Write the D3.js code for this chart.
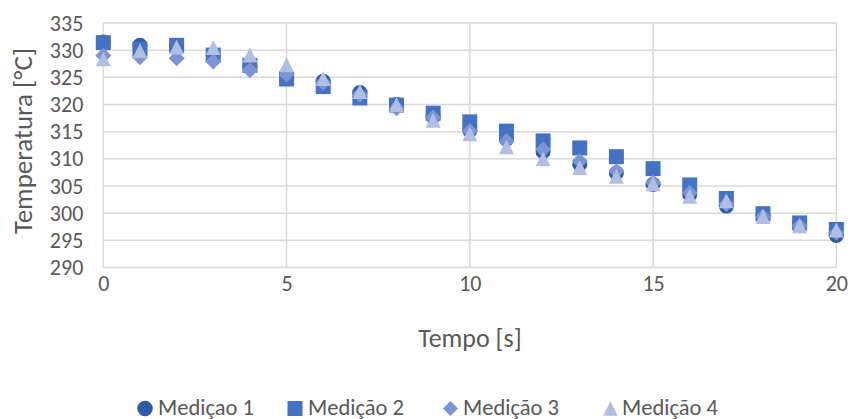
<!DOCTYPE html>
<html><head><meta charset="utf-8">
<script src="https://cdn.jsdelivr.net/npm/d3@7"></script>
<style>body{margin:0;background:#fff}svg{display:block}text{font-family:Carlito,"Liberation Sans",Arial,sans-serif;fill:#595959}</style>
</head><body><svg id="c" width="851" height="419"></svg>
<script>
const tempo = [0,1,2,3,4,5,6,7,8,9,10,11,12,13,14,15,16,17,18,19,20];
const medicao1 = [331.5,330.9,330.5,329,327,325.5,324.3,322.2,320,317.8,315.2,313.6,311.3,309,307.4,305.3,303.4,301.3,299.6,298,295.9];
const medicao2 = [331.4,330.2,330.9,329.1,327.2,324.7,323.3,321.2,319.9,318.4,316.8,315.1,313.3,312,310.4,308.2,305.2,302.7,299.9,298.2,297];
const medicao3 = [329,328.7,328.5,327.9,326.3,325.5,324,321.8,319.3,317.6,315.1,313.3,311.7,309.6,307.7,305.6,303.7,301.7,299.4,297.7,296.4];
const medicao4 = [328.4,329.9,330.6,330.5,329.1,327.3,324.8,322.4,320,317.1,314.6,312.2,310,308.4,306.8,305.4,303.1,302.3,299.4,297.7,296.9];
const seriesNames = ["Mediçao 1","Medição 2","Medição 3","Medição 4"];
const xTicks = [0,5,10,15,20];
const yTicks = [290,295,300,305,310,315,320,325,330,335];

const svg = d3.select("#c");
const x = d3.scaleLinear().domain([0,20]).range([103.3,836.3]);
const y = d3.scaleLinear().domain([290,335]).range([267.5,23]);
const colors = ["#2F5CA8","#4472C4","#7C94D4","#B0BDE4"];

const diamond = {draw(ctx,size){const r=Math.sqrt(size/2);ctx.moveTo(0,-r);ctx.lineTo(r,0);ctx.lineTo(0,r);ctx.lineTo(-r,0);ctx.closePath();}};
const triangle = {draw(ctx,size){const w=Math.sqrt(size*2);ctx.moveTo(0,-w/2);ctx.lineTo(w/2,w/2);ctx.lineTo(-w/2,w/2);ctx.closePath();}};
const symbols = [d3.symbolCircle,d3.symbolSquare,diamond,triangle];
const sizes = [177,225,128,112];
const legSizes = [190,225,112,105];

const grid = svg.append("g");
grid.selectAll("line.h").data(yTicks).join("line")
  .attr("x1",x(0)).attr("x2",x(20)).attr("y1",d=>y(d)).attr("y2",d=>y(d))
  .attr("stroke","#d9d9d9").attr("stroke-width",1.5);
grid.selectAll("line.v").data(xTicks).join("line")
  .attr("y1",y(290)).attr("y2",y(335)).attr("x1",d=>x(d)).attr("x2",d=>x(d))
  .attr("stroke","#d9d9d9").attr("stroke-width",1.5);

const yAxis = svg.append("g").attr("transform",`translate(${x(0)},0)`)
  .call(d3.axisLeft(y).tickValues(yTicks).tickSize(0).tickPadding(20));
yAxis.select(".domain").remove();
yAxis.selectAll("text").style("font-size","22px").attr("fill","#595959");

const xAxis = svg.append("g").attr("transform",`translate(0,${y(290)})`)
  .call(d3.axisBottom(x).tickValues(xTicks).tickSize(0).tickPadding(8));
xAxis.select(".domain").remove();
xAxis.selectAll("text").style("font-size","22px").attr("fill","#595959");

const data = [medicao1,medicao2,medicao3,medicao4];
data.forEach((vals,i)=>{
  svg.append("g").selectAll("path").data(vals).join("path")
    .attr("d",d3.symbol().type(symbols[i]).size(sizes[i]))
    .attr("transform",(d,j)=>`translate(${x(tempo[j])},${y(d)})`)
    .attr("fill",colors[i]);
});

svg.append("text").attr("x",470).attr("y",338).attr("text-anchor","middle")
  .attr("dominant-baseline","central").style("font-size","26px").text("Tempo [s]");
svg.append("text").attr("transform","translate(22,141) rotate(-90)").attr("text-anchor","middle")
  .attr("dominant-baseline","central").style("font-size","27px").text("Temperatura [°C]");

const legX = [145,295,450.5,610.5];
const legT = [158,308,463,622];
const leg = svg.append("g");
seriesNames.forEach((n,i)=>{
  leg.append("path").attr("d",d3.symbol().type(symbols[i]).size(legSizes[i])())
    .attr("transform",`translate(${legX[i]},408.5)`).attr("fill",colors[i]);
  leg.append("text").attr("x",legT[i]).attr("y",414.5)
    .style("font-size","22.5px").text(n);
});
</script></body></html>
